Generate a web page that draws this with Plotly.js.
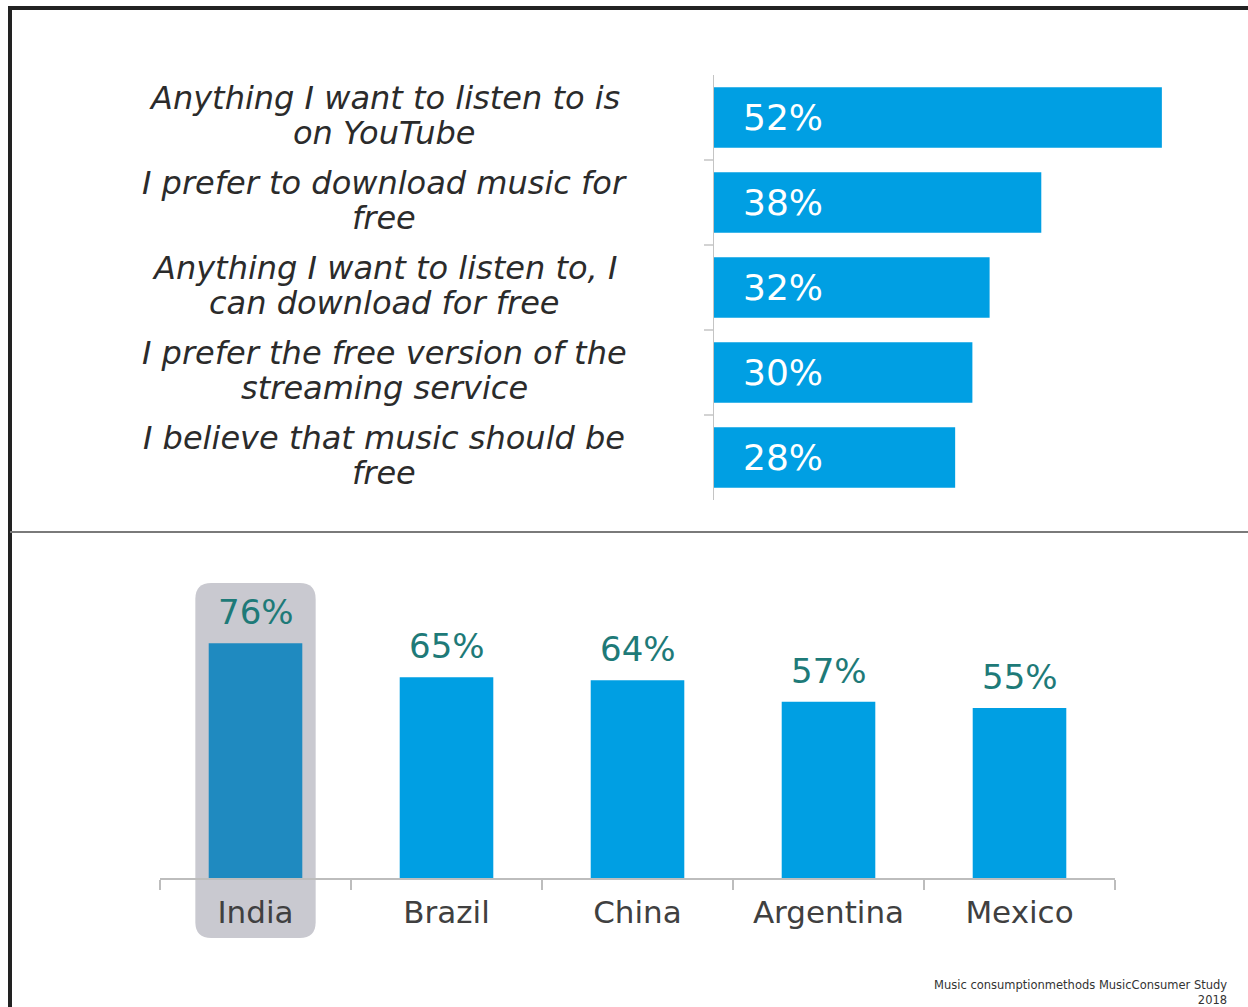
<!DOCTYPE html>
<html>
<head>
<meta charset="utf-8">
<script src="https://cdn.plot.ly/plotly-3.0.1.min.js"></script>
<style>
  html, body { margin: 0; padding: 0; background: #ffffff; }
  #chart { width: 1248px; height: 1007px; }
</style>
</head>
<body>
<div id="chart"></div>
<script>
// ---- data ----
const topLabels = [
  "Anything I want to listen to is<br>on YouTube",
  "I prefer to download music for<br>free",
  "Anything I want to listen to, I<br>can download for free",
  "I prefer the free version of the<br>streaming service",
  "I believe that music should be<br>free"
];
const topValues = [52, 38, 32, 30, 28];
const countries = ["India", "Brazil", "China", "Argentina", "Mexico"];
const countryValues = [76, 65, 64, 57, 55];
const highlightCountry = "India";
const sourceText = "Music consumptionmethods MusicConsumer Study<br>2018";

// ---- layout helpers (pixel -> paper) ----
const W = 1248, H = 1007;
const px = x => x / W;
const py = y => 1 - y / H;

const FONT = "DejaVu Sans, Liberation Sans, Arial, sans-serif";
const BLUE = "#009fe3";
const BLUE_DARK = "#1f8ac0";
const TEAL = "#1e7a78";
const AXIS_GRAY = "#c4c4c4";

// bottom chart geometry
const bx0 = 160, bx1 = 1115, bBase = 878, bTop = 569, bMax = 100;
const catW = (bx1 - bx0) / countries.length;
const unitPx = (bBase - bTop) / bMax;

const traces = [
  {
    type: "bar",
    orientation: "h",
    x: topValues,
    y: topLabels,
    xaxis: "x",
    yaxis: "y",
    marker: { color: BLUE },
    width: 0.71,
    hoverinfo: "skip",
    showlegend: false
  },
  {
    type: "bar",
    x: countries,
    y: countryValues,
    xaxis: "x2",
    yaxis: "y2",
    marker: { color: countries.map(c => c === highlightCountry ? BLUE_DARK : BLUE) },
    width: 0.49,
    hoverinfo: "skip",
    showlegend: false
  }
];

const annotations = [];
// top category labels (one annotation per line for tighter line spacing)
const LINE_GAP = 35;
topLabels.forEach(lbl => {
  const lines = lbl.split("<br>");
  lines.forEach((ln, k) => {
    annotations.push({
      xref: "paper", yref: "y", x: px(384), y: lbl,
      text: ln, showarrow: false, align: "center",
      xanchor: "center", yanchor: "middle",
      yshift: ((lines.length - 1) / 2 - k) * LINE_GAP + 2,
      font: { family: FONT, size: 32, color: "#2b2b2b", style: "italic" }
    });
  });
});
// top value labels inside bars
topValues.forEach((v, i) => {
  annotations.push({
    xref: "x", yref: "y", x: 0, y: topLabels[i],
    text: v + "%", showarrow: false,
    xanchor: "left", yanchor: "middle", xshift: 27,
    font: { family: FONT, size: 36, color: "#ffffff" }
  });
});
// bottom value labels above bars
countryValues.forEach((v, i) => {
  annotations.push({
    xref: "x2", yref: "y2", x: countries[i], y: v,
    text: v + "%", showarrow: false,
    xanchor: "center", yanchor: "bottom", yshift: 9,
    font: { family: FONT, size: 34, color: TEAL }
  });
});
// source note
annotations.push({
  xref: "paper", yref: "paper", x: px(1229), y: py(976),
  text: sourceText, showarrow: false, align: "right",
  xanchor: "right", yanchor: "top",
  font: { family: FONT, size: 11.5, color: "#333333" }
});

// highlight rounded box behind the highlighted country
const hi = countries.indexOf(highlightCountry);
const hxc = bx0 + (hi + 0.5) * catW;
const hL = hxc - 0.315 * catW, hR = hxc + 0.315 * catW;
const hT = bBase - (countryValues[hi] + 19.5) * unitPx, hB = bBase + 60;
const r = 16;
function rr(L, T, R, B, rad) {
  const P = (x, y) => px(x) + "," + py(y);
  return "M " + P(L + rad, T) + " L " + P(R - rad, T) + " Q " + P(R, T) + " " + P(R, T + rad) +
    " L " + P(R, B - rad) + " Q " + P(R, B) + " " + P(R - rad, B) +
    " L " + P(L + rad, B) + " Q " + P(L, B) + " " + P(L, B - rad) +
    " L " + P(L, T + rad) + " Q " + P(L, T) + " " + P(L + rad, T) + " Z";
}

const shapes = [
  { type: "path", xref: "paper", yref: "paper", path: rr(hL, hT, hR, hB, r),
    fillcolor: "#c9c9d0", line: { width: 0 }, layer: "below" },
  // frame: top and left borders
  { type: "line", xref: "paper", yref: "paper", x0: px(8), x1: 1, y0: py(8), y1: py(8),
    line: { color: "#222222", width: 4 } },
  { type: "line", xref: "paper", yref: "paper", x0: px(10), x1: px(10), y0: py(6), y1: 0,
    line: { color: "#222222", width: 4 } },
  // divider between the two panels
  { type: "line", xref: "paper", yref: "paper", x0: px(10), x1: 1, y0: py(532), y1: py(532),
    line: { color: "#7a7a7a", width: 2 } }
];
// separator ticks between the top categories (interior boundaries only)
for (let i = 0; i < topLabels.length - 1; i++) {
  shapes.push({ type: "line", xref: "paper", yref: "y", x0: px(704), x1: px(714),
    y0: i + 0.5, y1: i + 0.5, line: { color: AXIS_GRAY, width: 1.5 } });
}

const layout = {
  width: W, height: H,
  margin: { l: 0, r: 0, t: 0, b: 0 },
  paper_bgcolor: "#ffffff",
  plot_bgcolor: "rgba(0,0,0,0)",
  font: { family: FONT },
  bargap: 0.3,
  showlegend: false,
  xaxis: {
    domain: [px(714), 1], range: [0, 62], anchor: "y",
    showgrid: false, zeroline: false, showline: false, showticklabels: false, ticks: ""
  },
  yaxis: {
    domain: [py(500), py(75)], anchor: "x", type: "category",
    categoryorder: "array", categoryarray: topLabels,
    range: [4.5, -0.5],
    showgrid: false, zeroline: false, showline: true, linecolor: AXIS_GRAY, linewidth: 1.5,
    ticks: "", showticklabels: false
  },
  xaxis2: {
    domain: [px(bx0), px(bx1)], anchor: "y2", type: "category",
    categoryorder: "array", categoryarray: countries,
    range: [-0.5, countries.length - 0.5],
    showgrid: false, zeroline: false, showline: true, linecolor: "#bdbdbd", linewidth: 1.5,
    ticks: "outside", tickson: "boundaries", ticklen: 10, tickcolor: "#bdbdbd", tickwidth: 1.5,
    ticklabelstandoff: 6,
    tickfont: { family: FONT, size: 31, color: "#404040" }
  },
  yaxis2: {
    domain: [py(bBase), py(bTop)], anchor: "x2", range: [0, bMax],
    visible: false, showgrid: false, zeroline: false
  },
  annotations: annotations,
  shapes: shapes
};

Plotly.newPlot("chart", traces, layout, { displayModeBar: false, staticPlot: true });
</script>
</body>
</html>
